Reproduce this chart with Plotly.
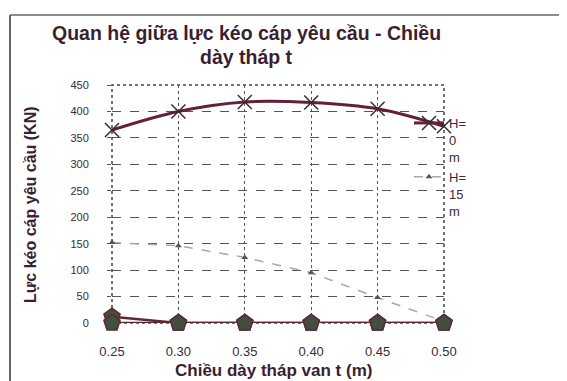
import plotly.graph_objects as go

x_labels = ["0.25", "0.30", "0.35", "0.40", "0.45", "0.50"]
h0_values = [365, 400, 418, 417, 405, 372]
h15_values = [152, 146, 124, 95, 48, 3]
base_a = [12, 0, 0, 0, 0, 0]
base_b = [0, 0, 0, 0, 0, 0]
y_ticks = [0, 50, 100, 150, 200, 250, 300, 350, 400, 450]
title_lines = ["Quan hệ giữa lực kéo cáp yêu cầu - Chiều", "dày tháp t"]

W, H = 567, 381
OFF = 8  # page body margin
L, T = 112 - OFF, 85 - OFF
pw, ph = 332, 238
R = W - L - pw
B = H - T - ph


def px(xp):
    return (xp - OFF - L) / pw


def py(yp):
    return 1 - (yp - OFF - T) / ph


TXT = "#3a1f30"

fig = go.Figure()

fig.add_trace(go.Scatter(
    x=x_labels, y=h15_values, name="H=<br>15<br>m", mode="lines+markers",
    line=dict(color="#a8a8a8", width=1.5, dash="dash"),
    marker=dict(symbol="triangle-up", size=6, color="#555555"),
    cliponaxis=False))
fig.add_trace(go.Scatter(
    x=x_labels, y=base_a, mode="lines+markers", showlegend=False,
    line=dict(color="#5a2a35", width=2.5),
    marker=dict(symbol="pentagon", size=17, color="#434f3e", line=dict(color="#5a2a35", width=1.5)),
    cliponaxis=False))
fig.add_trace(go.Scatter(
    x=x_labels, y=base_b, mode="lines+markers", showlegend=False,
    line=dict(color="#5a2a35", width=2.5),
    marker=dict(symbol="pentagon", size=17, color="#434f3e", line=dict(color="#5a2a35", width=1.5)),
    cliponaxis=False))
fig.add_trace(go.Scatter(
    x=x_labels, y=h0_values, name="H=<br>0<br>m", mode="lines+markers",
    line=dict(color="#62203a", width=3, shape="spline"),
    marker=dict(symbol="x-thin", size=14, line=dict(color="#3a2a30", width=1.5)),
    cliponaxis=False))

fig.update_layout(
    width=W, height=H,
    margin=dict(l=L, r=R, t=T, b=B, autoexpand=False),
    paper_bgcolor="white", plot_bgcolor="white",
    font=dict(family="Liberation Sans, Arial", color="#3a2a35", size=11),
    legend=dict(
        x=px(409), xanchor="left", y=py(108), yanchor="top", valign="top",
        bgcolor="rgba(0,0,0,0)", font=dict(size=13, color="#3a2a35"),
        tracegroupgap=4, traceorder="reversed", itemwidth=30),
    showlegend=True,
    annotations=[
        dict(text="<b>" + title_lines[0] + "</b>", xref="paper", yref="paper",
             x=px(246), y=py(33), showarrow=False, xanchor="center", yanchor="middle",
             font=dict(size=19.5, color=TXT)),
        dict(text="<b>" + title_lines[1] + "</b>", xref="paper", yref="paper",
             x=px(246), y=py(57), showarrow=False, xanchor="center", yanchor="middle",
             font=dict(size=19.5, color=TXT)),
        dict(text="<b>Lực kéo cáp yêu cầu (KN)</b>", xref="paper", yref="paper",
             x=px(30), y=py(205), textangle=-90, showarrow=False,
             xanchor="center", yanchor="middle",
             font=dict(size=16, color=TXT)),
        dict(text="<b>Chiều dày tháp van t (m)</b>", xref="paper", yref="paper",
             x=px(273), y=py(370), showarrow=False,
             xanchor="center", yanchor="middle",
             font=dict(size=17, color=TXT)),
    ],
)

fig.update_xaxes(
    type="category", range=[0, 5], automargin=False,
    showgrid=True, gridcolor="#555555", griddash="dot", gridwidth=1,
    showline=False, zeroline=False,
    ticks="", ticklabelstandoff=19, tickfont=dict(size=13, color="#3a2a35"),
)
fig.update_yaxes(
    range=[0, 450], tickvals=y_ticks, automargin=False,
    showgrid=True, gridcolor="#555555", griddash="dash", gridwidth=1,
    zeroline=False, showline=False,
    ticks="outside", ticklen=4, tickcolor="#555555", ticklabelstandoff=16,
    tickfont=dict(size=11, color="#3a2a35"),
)

# dotted plot frame
fig.add_shape(type="rect", xref="paper", yref="paper", x0=0, x1=1, y0=0, y1=1,
              line=dict(color="#444444", width=1.5, dash="dot"), layer="below")
# outer chart border (left and top edges)
fig.add_shape(type="line", xref="paper", yref="paper", x0=px(10), x1=px(10), y0=py(400), y1=py(15),
              line=dict(color="#666666", width=2))
fig.add_shape(type="line", xref="paper", yref="paper", x0=px(10), x1=px(600), y0=py(15), y1=py(15),
              line=dict(color="#666666", width=1.5))

fig.write_html("out.html")
